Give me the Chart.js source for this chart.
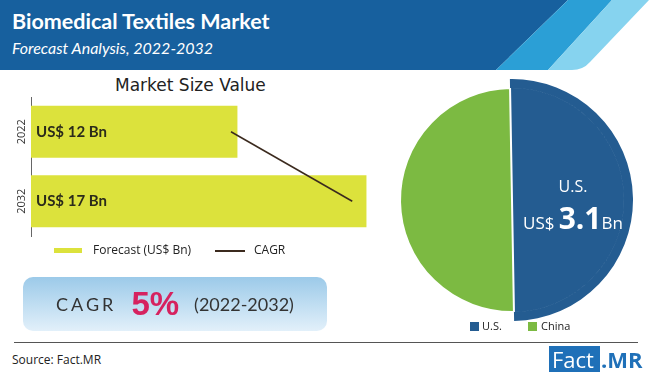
<!DOCTYPE html>
<html>
<head>
<meta charset="utf-8">
<script src="https://cdn.jsdelivr.net/npm/chart.js@4.4.1/dist/chart.umd.min.js"></script>
<style>
  body { margin: 0; background: #fff; }
  #wrap { position: relative; width: 650px; height: 375px; overflow: hidden; background: #fff; font-family: "Open Sans", sans-serif; }
  .abs { position: absolute; white-space: nowrap; }
  #title { left: 12px; top: 8px; font: 700 21.5px Lato, sans-serif; color: #fff; }
  #subtitle { left: 12px; top: 38px; font: italic 400 16px Lato, sans-serif; color: #fff; }
  #msv { left: 115px; top: 75px; font: 400 17px "DejaVu Sans", sans-serif; color: #222; }
  .leg { font: 400 12px "Open Sans", sans-serif; color: #222; }
  #cagrBox { left: 23px; top: 277px; width: 304px; height: 54px; border-radius: 10px;
    background: linear-gradient(#9ccae9, #e2f0fa); display: flex; align-items: center; justify-content: center; gap: 15px; }
  #cagrBox .lbl { font: 400 18px Lato, sans-serif; letter-spacing: 3px; color: #333; }
  #cagrBox .pct { font: 700 33px "Liberation Sans", sans-serif; color: #d6225f; }
  #cagrBox .yrs { font: 400 18px Lato, sans-serif; color: #333; }
  #rule { left: 14px; top: 342px; width: 624px; height: 1px; background: #555; }
  #source { left: 12px; top: 351px; font: 400 12px "Open Sans", sans-serif; color: #222; }
  #usLbl { left: 573px; top: 175px; transform: translateX(-50%); font: 400 16px "Open Sans", sans-serif; color: #fff; }
  #usVal { left: 573px; top: 197px; transform: translateX(-50%); color: #fff; font-family: "Open Sans", sans-serif; }
</style>
</head>
<body>
<div id="wrap">
  <svg class="abs" style="left:0;top:0" width="650" height="70">
    <polygon points="0,0 568,0 496,70 0,70" fill="#17609e"/>
    <polygon points="568,0 612,0 548,70 496,70" fill="#2b9fd6"/>
    <path d="M612,0 L649,0 L590,62 Q583,70 572,70 L548,70 Z" fill="#86d3ef"/>
  </svg>
  <div id="title" class="abs">Biomedical Textiles Market</div>
  <div id="subtitle" class="abs">Forecast Analysis, 2022-2032</div>
  <div id="msv" class="abs">Market Size Value</div>

  <canvas id="barChart" class="abs" style="left:0;top:92px;width:400px;height:150px"></canvas>

  <div class="abs" style="left:54px;top:248px;width:28px;height:5px;background:#dce23c"></div>
  <div class="abs leg" style="left:93px;top:241px">Forecast (US$ Bn)</div>
  <div class="abs" style="left:215px;top:250px;width:30px;height:2px;background:#3b2a1e"></div>
  <div class="abs leg" style="left:254px;top:241px">CAGR</div>

  <div id="cagrBox" class="abs"><span class="lbl">CAGR</span><span class="pct">5%</span><span class="yrs">(2022-2032)</span></div>

  <canvas id="pieChart" class="abs" style="left:391px;top:79px;width:242px;height:242px"></canvas>
  <div id="usLbl" class="abs">U.S.</div>
  <div id="usVal" class="abs"><span style="font-size:17px">US$</span> <span style="font-size:30px;font-weight:700">3.1</span><span style="font-size:17px">Bn</span></div>

  <div class="abs" style="left:470px;top:322px;width:9px;height:9px;background:#245c91"></div>
  <div class="abs leg" style="left:482px;top:318px;font-size:11px">U.S.</div>
  <div class="abs" style="left:528px;top:322px;width:9px;height:9px;background:#7cba42"></div>
  <div class="abs leg" style="left:541px;top:318px;font-size:11px">China</div>

  <div id="rule" class="abs"></div>
  <div id="source" class="abs">Source: Fact.MR</div>
  <div class="abs" style="left:549px;top:346px;width:51px;height:26px;background:#1f70b8"></div>
  <div class="abs" style="left:552px;top:344px;font:400 22px 'Open Sans',sans-serif;color:#fff">Fact</div>
  <div class="abs" style="left:601px;top:344px;font:700 22px 'Open Sans',sans-serif;color:#1f70b8">.MR</div>
</div>

<script>
// ---- data ----
const years       = ['2022', '2032'];
const forecast    = [12, 17];          // US$ Bn
const cagrLine    = [11.75, 16.45];    // CAGR line across the bars
const regions     = ['U.S.', 'China'];
const regionShare = [50, 50];

const BAR_COLOR  = '#dce23c';
const LINE_COLOR = '#3b2a1e';
const US_BLUE    = '#245c91';
const CN_GREEN   = '#7cba42';

// value text inside the bars (bar dataset is index 1)
const barText = {
    id: 'barText',
    afterDatasetsDraw(chart) {
        const ctx = chart.ctx;
        const meta = chart.getDatasetMeta(1);
        ctx.save();
        ctx.font = '700 15px Lato, sans-serif';
        ctx.fillStyle = '#2b2b1b';
        ctx.textBaseline = 'middle';
        meta.data.forEach((bar, i) => {
            ctx.fillText('US$ ' + forecast[i] + ' Bn', chart.chartArea.left + 5, bar.y);
        });
        ctx.restore();
    }
};

new Chart(document.getElementById('barChart'), {
    data: {
        labels: years,
        datasets: [
            {
                type: 'line',
                indexAxis: 'y',
                data: cagrLine,
                borderColor: LINE_COLOR,
                borderWidth: 1.5,
                pointRadius: 0,
                order: 0
            },
            {
                type: 'bar',
                data: forecast,
                backgroundColor: BAR_COLOR,
                barPercentage: 0.75,
                categoryPercentage: 1,
                order: 1
            }
        ]
    },
    plugins: [barText],
    options: {
        indexAxis: 'y',
        responsive: false,
        animation: false,
        layout: { padding: { top: 5, bottom: 6, left: 0, right: 0 } },
        scales: {
            x: { display: false, min: 4, max: 18.3 },
            y: {
                grid: { display: false },
                border: { display: true, color: '#666', width: 1 },
                ticks: {
                    color: '#333',
                    font: { size: 11, family: 'Open Sans' },
                    minRotation: 90,
                    maxRotation: 90,
                    crossAlign: 'center',
                    padding: -11
                },
                afterFit: s => { s.width = 31; }
            }
        },
        plugins: { legend: { display: false }, tooltip: { enabled: false } }
    }
});

new Chart(document.getElementById('pieChart'), {
    type: 'pie',
    data: {
        labels: regions,
        datasets: [
            {   // thin outer ring so the U.S. slice reaches further out
                data: regionShare,
                backgroundColor: [US_BLUE, 'rgba(0,0,0,0)'],
                borderWidth: 0,
                hoverBorderWidth: 0,
                weight: 9
            },
            {
                data: regionShare,
                backgroundColor: [US_BLUE, CN_GREEN],
                borderColor: [US_BLUE, '#ffffff'],
                borderWidth: [1, 2],
                hoverBorderWidth: [1, 2],
                weight: 112
            }
        ]
    },
    options: {
        responsive: false,
        animation: false,
        rotation: -1,
        plugins: { legend: { display: false }, tooltip: { enabled: false } }
    }
});
</script>
</body>
</html>
